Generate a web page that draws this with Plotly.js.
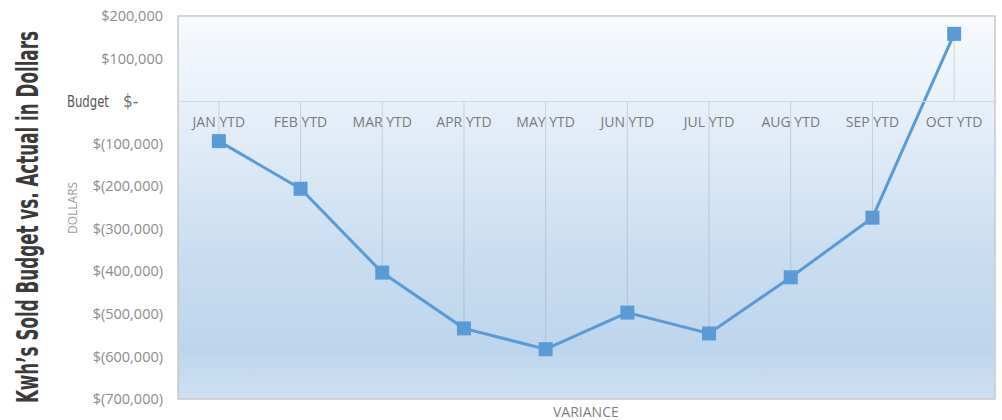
<!DOCTYPE html>
<html>
<head>
<meta charset="utf-8">
<script src="https://cdn.plot.ly/plotly-3.0.1.min.js"></script>
<style>
  html, body { margin: 0; padding: 0; background: #ffffff; }
  #chart { width: 1002px; height: 420px; }
</style>
</head>
<body>
<div id="chart"></div>
<script>
// ---- data ----
const categories = ["JAN YTD", "FEB YTD", "MAR YTD", "APR YTD", "MAY YTD",
                    "JUN YTD", "JUL YTD", "AUG YTD", "SEP YTD", "OCT YTD"];
const variance = [-94000, -206000, -403000, -534000, -583000,
                  -497000, -546000, -414000, -274000, 158000];
const yTickValues = [200000, 100000, 0, -100000, -200000, -300000,
                     -400000, -500000, -600000, -700000];
const yTickLabels = ["$200,000", "$100,000", "", "$(100,000)", "$(200,000)",
                     "$(300,000)", "$(400,000)", "$(500,000)", "$(600,000)", "$(700,000)"];
const chartTitle = "Kwh\u2019s Sold Budget vs. Actual in Dollars";
const yTitle = "DOLLARS";
const xTitle = "VARIANCE";
const zeroLabelWord = "Budget";
const zeroLabelValue = "$-";

// drop lines from each point to the zero axis
const dropX = [], dropY = [];
categories.forEach((c, i) => { dropX.push(c, c, null); dropY.push(0, variance[i], null); });

const blue = "#5b9bd5";
const traces = [
  { type: "scatter", mode: "lines", x: dropX, y: dropY, hoverinfo: "skip",
    line: { color: "rgba(150,150,150,0.33)", width: 1 }, showlegend: false },
  { type: "scatter", mode: "lines+markers", x: categories, y: variance,
    line: { color: blue, width: 3 },
    marker: { symbol: "square", size: 14, color: blue },
    showlegend: false }
];

// gradient background for the plot area
const gradSvg = "<svg xmlns='http://www.w3.org/2000/svg' width='10' height='100' preserveAspectRatio='none'>" +
  "<defs><linearGradient id='g' x1='0' y1='0' x2='0' y2='1'>" +
  "<stop offset='0' stop-color='#f7fafd'/>" +
  "<stop offset='0.3' stop-color='#e3edf8'/>" +
  "<stop offset='0.6' stop-color='#cbdef1'/>" +
  "<stop offset='0.87' stop-color='#bdd5ec'/>" +
  "<stop offset='1' stop-color='#cfe1f2'/>" +
  "</linearGradient></defs><rect width='10' height='100' fill='url(#g)'/></svg>";
const gradUri = "data:image/svg+xml;charset=utf-8," + encodeURIComponent(gradSvg);

const L = 178, R = 7, T = 16, B = 21, W = 1002, H = 420;
const pw = W - L - R;
const px = v => (v - L) / pw;

const yMin = -700000, yMax = 200000;
const narrow = "Liberation Sans Narrow, DejaVu Sans Condensed, sans-serif";

const layout = {
  width: W, height: H,
  margin: { l: L, r: R, t: T, b: B, pad: 0 },
  paper_bgcolor: "#ffffff",
  plot_bgcolor: "rgba(0,0,0,0)",
  font: { family: "Open Sans, sans-serif", color: "#7f7f7f" },
  xaxis: {
    type: "category",
    range: [-0.5, categories.length - 0.5],
    anchor: "free",
    position: (0 - yMin) / (yMax - yMin),
    showline: true, linecolor: "#d4d8dc", linewidth: 1,
    showgrid: false, zeroline: false,
    ticks: "", ticklabelstandoff: 8,
    tickfont: { family: "Open Sans, sans-serif", size: 14, color: "#7a7a7a" },
    fixedrange: true
  },
  yaxis: {
    range: [yMin, yMax],
    tickvals: yTickValues, ticktext: yTickLabels,
    showgrid: false, zeroline: false, showline: false,
    ticks: "", ticklabelstandoff: 14,
    tickfont: { family: "Open Sans, sans-serif", size: 14.5, color: "#8c8c8c" },
    fixedrange: true
  },
  images: [{ source: gradUri, xref: "paper", yref: "paper", x: 0, y: 1,
             sizex: 1, sizey: 1, sizing: "stretch", layer: "below",
             xanchor: "left", yanchor: "top" }],
  shapes: [{ type: "rect", xref: "paper", yref: "paper", x0: 0, x1: 1, y0: 0, y1: 1,
             line: { color: "#c8c8c8", width: 1.5 }, fillcolor: "rgba(0,0,0,0)", layer: "above" }],
  annotations: [
    { text: chartTitle, xref: "paper", yref: "paper", x: px(27), y: (H - B - 217) / (H - T - B),
      textangle: -90, showarrow: false, xanchor: "center", yanchor: "middle",
      font: { family: narrow, size: 31, weight: 700, color: "#3a3a3a" } },
    { text: yTitle, xref: "paper", yref: "paper", x: px(72), y: (H - B - 208) / (H - T - B),
      textangle: -90, showarrow: false, xanchor: "center", yanchor: "middle",
      font: { family: "Open Sans, sans-serif", size: 12, color: "#9a9a9a" } },
    { text: xTitle, xref: "paper", yref: "paper", x: px(586), y: -(411 - (H - B)) / (H - T - B),
      showarrow: false, xanchor: "center", yanchor: "middle",
      font: { family: "Open Sans, sans-serif", size: 14, color: "#7f7f7f" } },
    { text: zeroLabelWord, xref: "paper", yref: "y", x: px(116), y: 0,
      showarrow: false, xanchor: "right", yanchor: "middle",
      font: { family: narrow, size: 16, color: "#555555" } },
    { text: zeroLabelValue, xref: "paper", yref: "y", x: px(121), y: 0,
      showarrow: false, xanchor: "left", yanchor: "middle",
      font: { family: narrow, size: 17, color: "#6e6e6e" } }
  ]
};

Plotly.newPlot("chart", traces, layout, { displayModeBar: false, staticPlot: true }).then(gd => {
  // squeeze the vertical title to the reference's narrow face
  const texts = gd.querySelectorAll("g.annotation text.annotation-text");
  texts.forEach(t => {
    if (t.textContent === chartTitle) {
      t.setAttribute("textLength", "372");
      t.setAttribute("lengthAdjust", "spacingAndGlyphs");
    }
    if (t.textContent === zeroLabelWord) {
      t.setAttribute("textLength", "42");
      t.setAttribute("lengthAdjust", "spacingAndGlyphs");
    }
  });
});
</script>
</body>
</html>
